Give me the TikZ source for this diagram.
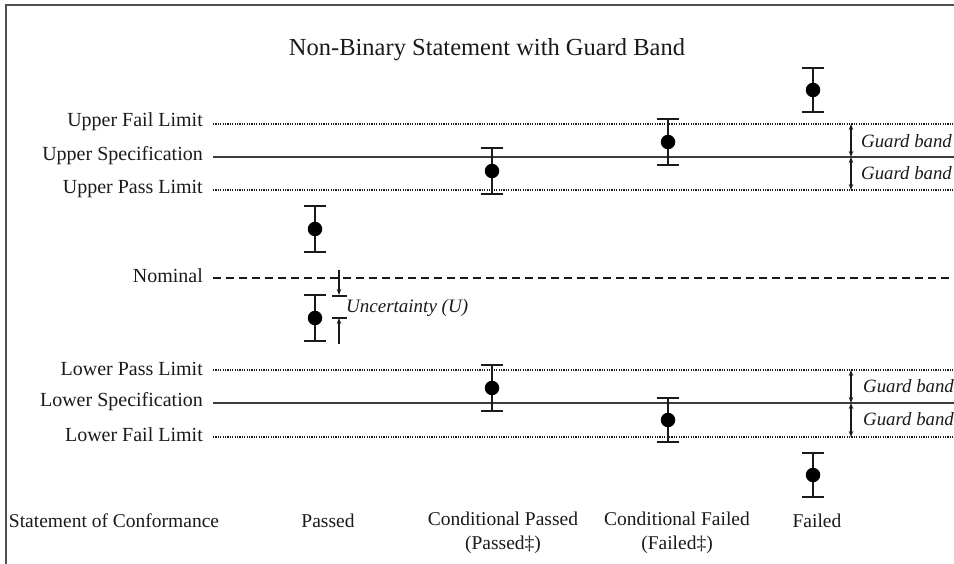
\documentclass[tikz,border=0pt]{standalone}
\usepackage{fontspec}
\setmainfont{Liberation Serif}
\usetikzlibrary{arrows.meta}
\definecolor{ink}{HTML}{1A1A1A}
\definecolor{frame}{HTML}{505050}
\newcommand\errbar[4]{% name, x, dot y, half length
  \draw[bar] (#2,#3-#4) -- (#2,#3+#4);
  \draw[bar] (#2-11,#3-#4) -- (#2+11,#3-#4);
  \draw[bar] (#2-11,#3+#4) -- (#2+11,#3+#4);
  \node[dotnode] (#1) at (#2,#3) {};
}
\begin{document}
\begin{tikzpicture}[x=1pt,y=-1pt,
  lbl/.style={anchor=east, font=\fontsize{20}{22}\selectfont, inner sep=0pt, text=ink},
  bot/.style={anchor=base, font=\fontsize{19.5}{23.5}\selectfont, inner sep=0pt, text=ink, align=center},
  gb/.style={anchor=west, font=\fontsize{18.8}{21}\selectfont\itshape, inner sep=0pt, text=ink},
  dotline/.style={line width=1.6pt, ink, dash pattern=on 1.2pt off 1.2pt},
  solidline/.style={line width=2pt, ink!85},
  dashline/.style={line width=1.9pt, ink, dash pattern=on 8pt off 5pt},
  bar/.style={line width=2pt, ink},
  dotnode/.style={circle, fill=black, inner sep=0pt, minimum size=14.5pt},
  arr/.style={line width=1.3pt, ink, -{Stealth[length=6pt,width=4.5pt]}},
  darr/.style={line width=1.3pt, ink, {Stealth[length=6pt,width=4.5pt]}-{Stealth[length=6pt,width=4.5pt]}},
  tick/.style={line width=1.5pt, ink}
]
\useasboundingbox (0,0) rectangle (954,564);
\draw[line width=2pt, frame] (6,564) -- (6,5) -- (954,5);

% title
\node[font=\fontsize{24.5}{27}\selectfont, text=ink] (title) at (487,50) {Non-Binary Statement with Guard Band};

% limit lines
\coordinate (ufl0) at (213,124); \coordinate (ufl1) at (954,124);
\coordinate (us0) at (213,157);  \coordinate (us1) at (954,157);
\coordinate (upl0) at (213,190); \coordinate (upl1) at (954,190);
\coordinate (nom0) at (213,278); \coordinate (nom1) at (954,278);
\coordinate (lpl0) at (213,370); \coordinate (lpl1) at (954,370);
\coordinate (ls0) at (213,403);  \coordinate (ls1) at (954,403);
\coordinate (lfl0) at (213,437); \coordinate (lfl1) at (954,437);
\draw[dotline] (ufl0) -- (ufl1);
\draw[solidline] (us0) -- (us1);
\draw[dotline] (upl0) -- (upl1);
\draw[dashline] (nom0) -- (nom1);
\draw[dotline] (lpl0) -- (lpl1);
\draw[solidline] (ls0) -- (ls1);
\draw[dotline] (lfl0) -- (lfl1);

% left labels
\node[lbl] (lufl) at (203,122) {Upper Fail Limit};
\node[lbl] (lus) at (203,156) {Upper Specification};
\node[lbl] (lupl) at (203,189) {Upper Pass Limit};
\node[lbl] (lnom) at (203,276) {Nominal};
\node[lbl] (llpl) at (203,369) {Lower Pass Limit};
\node[lbl] (lls) at (203,402) {Lower Specification};
\node[lbl] (llfl) at (203,435) {Lower Fail Limit};

% error bars
\errbar{p1}{315}{229}{23}
\errbar{p2}{315}{318}{23}
\errbar{cp1}{492}{171}{23}
\errbar{cp2}{492}{388}{23}
\errbar{cf1}{668}{142}{23}
\errbar{cf2}{668}{420}{22}
\errbar{f1}{813}{90}{22}
\errbar{f2}{813}{475}{22}

% uncertainty
\coordinate (ua0) at (339,270); \coordinate (ua1) at (339,295);
\coordinate (ub0) at (339,344); \coordinate (ub1) at (339,318);
\draw[arr] (ua0) -- (ua1);
\draw[arr] (ub0) -- (ub1);
\draw[tick] (332,296) -- (347,296);
\draw[tick] (332,318) -- (347,318);
\node[gb, font=\fontsize{19}{21}\selectfont\itshape] (unc) at (346,308) {Uncertainty (U)};

% guard bands
\coordinate (g1a) at (851,124); \coordinate (g1b) at (851,157);
\coordinate (g2a) at (851,157); \coordinate (g2b) at (851,190);
\coordinate (g3a) at (851,370); \coordinate (g3b) at (851,403);
\coordinate (g4a) at (851,403); \coordinate (g4b) at (851,437);
\draw[darr] (g1a) -- (g1b);
\draw[darr] (g2a) -- (g2b);
\draw[darr] (g3a) -- (g3b);
\draw[darr] (g4a) -- (g4b);
\node[gb] (gb1) at (861,141) {Guard band};
\node[gb] (gb2) at (861,173) {Guard band};
\node[gb] (gb3) at (863,386) {Guard band};
\node[gb] (gb4) at (863,419) {Guard band};

% bottom labels
\node[bot] (soc) at (114,527) {Statement of Conformance};
\node[bot] (sp) at (328,527) {Passed};
\node[bot, anchor=north] (scp) at (503,512) {Conditional Passed\\(Passed‡)};
\node[bot, anchor=north] (scf) at (677,512) {Conditional Failed\\(Failed‡)};
\node[bot] (sf) at (817,527) {Failed};
\end{tikzpicture}
\end{document}
